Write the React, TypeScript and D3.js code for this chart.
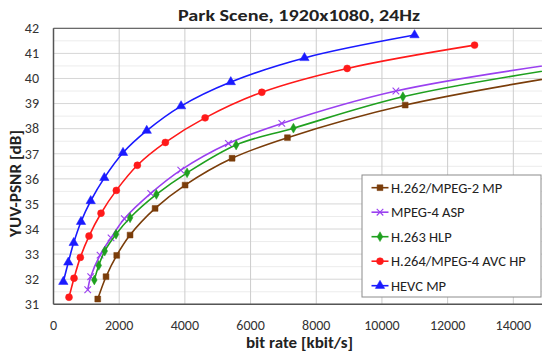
import React from 'react';
import * as d3 from 'd3';

// bit rate [kbit/s] / YUV-PSNR [dB]
const h262Rate = [1347, 1599, 1925, 2331, 3093, 4007, 5438, 7123, 10708, 16000];
const h262Psnr = [31.21, 32.1, 32.95, 33.76, 34.82, 35.75, 36.82, 37.64, 38.94, 40.21];
const mpeg4Rate = [1042, 1133, 1417, 1752, 2157, 2961, 3875, 5325, 6952, 10425, 15640];
const mpeg4Psnr = [31.58, 32.1, 32.96, 33.65, 34.41, 35.42, 36.35, 37.41, 38.21, 39.5, 40.64];
const h263Rate = [1243, 1377, 1560, 1904, 2331, 3132, 4067, 5560, 7305, 10638, 15500];
const h263Psnr = [31.97, 32.55, 33.12, 33.79, 34.45, 35.38, 36.24, 37.35, 38.02, 39.27, 40.42];
const h264Rate = [472, 625, 817, 1082, 1447, 1913, 2553, 3406, 4616, 6343, 8941, 12820];
const h264Psnr = [31.28, 32.04, 32.87, 33.72, 34.63, 35.54, 36.54, 37.45, 38.43, 39.45, 40.4, 41.33];
const hevcRate = [299, 451, 615, 838, 1133, 1548, 2117, 2839, 3884, 5398, 7641, 10992];
const hevcPsnr = [31.9, 32.67, 33.45, 34.29, 35.12, 36.04, 37.04, 37.92, 38.9, 39.86, 40.82, 41.73];

const seriesNames = ['H.262/MPEG-2 MP', 'MPEG-4 ASP', 'H.263 HLP', 'H.264/MPEG-4 AVC HP', 'HEVC MP'];
const xGrid = [0, 2000, 4000, 6000, 8000, 10000, 12000, 14000, 16000];
const xTickLabels = [0, 2000, 4000, 6000, 8000, 10000, 12000, 14000];
const yTicks = [31, 32, 33, 34, 35, 36, 37, 38, 39, 40, 41, 42];

const series = [
  { name: seriesNames[0], rate: h262Rate, psnr: h262Psnr, color: '#7a3d0a', symbol: d3.symbolSquare, size: 34 },
  { name: seriesNames[1], rate: mpeg4Rate, psnr: mpeg4Psnr, color: '#9a40f0', symbol: d3.symbolX, size: 30 },
  { name: seriesNames[2], rate: h263Rate, psnr: h263Psnr, color: '#1fa01f', symbol: d3.symbolDiamond, size: 28 },
  { name: seriesNames[3], rate: h264Rate, psnr: h264Psnr, color: '#ff1a1a', symbol: d3.symbolCircle, size: 38 },
  { name: seriesNames[4], rate: hevcRate, psnr: hevcPsnr, color: '#1a1aff', symbol: d3.symbolTriangle, size: 38 },
];

const W = 542;
const H = 352;
const plot = { left: 53.5, top: 28.3, right: 579, bottom: 304.3 };
const font = 'Carlito, Calibri, Lato, sans-serif';

export default function App() {
  const x = d3.scaleLinear().domain([0, 16000]).range([plot.left, plot.right]);
  const y = d3.scaleLinear().domain([31, 42]).range([plot.bottom, plot.top]);
  const line = d3
    .line<[number, number]>()
    .x(d => x(d[0]))
    .y(d => y(d[1]))
    .curve(d3.curveCatmullRom.alpha(0.5));

  const minorY = d3.range(31.5, 42, 1);

  // legend
  const lg = { x: 362, y: 175, w: 179, h: 122 };
  const lgRows = seriesNames.map((_, i) => lg.y + 12.7 + i * 24.5);

  return (
    <svg
      width={W}
      height={H}
      style={{ position: 'fixed', left: 0, top: 0, background: '#fff' }}
      fontFamily={font}
    >
      <defs>
        <clipPath id="plotClip">
          <rect x={plot.left} y={plot.top - 6} width={plot.right - plot.left} height={plot.bottom - plot.top + 6} />
        </clipPath>
      </defs>
      <rect width={W} height={H} fill="#fff" />

      {/* title */}
      <text
        x={299}
        y={21}
        textAnchor="middle"
        fontSize={16.5}
        fontWeight="bold"
        fill="#222"
        textLength={242}
        lengthAdjust="spacingAndGlyphs"
      >
        Park Scene, 1920x1080, 24Hz
      </text>

      {/* grid */}
      {minorY.map(v => (
        <line key={'m' + v} x1={plot.left} x2={plot.right} y1={y(v)} y2={y(v)} stroke="#ececec" strokeWidth={1} />
      ))}
      {yTicks.map(v => (
        <line key={'y' + v} x1={plot.left} x2={plot.right} y1={y(v)} y2={y(v)} stroke="#d6d6d6" strokeWidth={1} />
      ))}
      {xGrid.map(v => (
        <line key={'x' + v} x1={x(v)} x2={x(v)} y1={plot.top} y2={plot.bottom} stroke="#cccccc" strokeWidth={1} />
      ))}

      {/* frame */}
      <line x1={plot.left} x2={plot.right} y1={plot.top} y2={plot.top} stroke="#6a6a6a" strokeWidth={1.3} />
      <line x1={plot.left} x2={plot.left} y1={plot.top} y2={plot.bottom} stroke="#555" strokeWidth={1.5} />
      <line x1={plot.left} x2={plot.right} y1={plot.bottom} y2={plot.bottom} stroke="#555" strokeWidth={1.6} />

      {/* tick labels */}
      {yTicks.map(v => (
        <text key={'yl' + v} x={39} y={y(v) + 4.8} textAnchor="end" fontSize={14} fill="#333">
          {v}
        </text>
      ))}
      {xTickLabels.map(v => (
        <text key={'xl' + v} x={x(v)} y={329.5} textAnchor="middle" fontSize={14} fill="#333">
          {v}
        </text>
      ))}

      {/* axis titles */}
      <text
        x={299.5}
        y={347.5}
        textAnchor="middle"
        fontSize={15}
        fontWeight="bold"
        fill="#222"
        textLength={107}
        lengthAdjust="spacingAndGlyphs"
      >
        bit rate [kbit/s]
      </text>
      <text
        transform={`translate(20.5,183.5) rotate(-90)`}
        textAnchor="middle"
        fontSize={15}
        fontWeight="bold"
        fill="#222"
        textLength={107}
        lengthAdjust="spacingAndGlyphs"
      >
        YUV-PSNR [dB]
      </text>

      {/* series */}
      <g clipPath="url(#plotClip)">
        {series.map(s => {
          const pts = s.rate.map((r, i) => [r, s.psnr[i]] as [number, number]);
          const sym = d3.symbol().type(s.symbol).size(s.size)() || '';
          return (
            <g key={s.name}>
              <path d={line(pts) || ''} fill="none" stroke={s.color} strokeWidth={1.6} />
              {pts.map((p, i) => (
                <path
                  key={i}
                  d={sym}
                  transform={`translate(${x(p[0])},${y(p[1])})`}
                  fill={s.color}
                  stroke={s.color}
                  strokeWidth={s.symbol === d3.symbolX ? 1.1 : 0.5}
                />
              ))}
            </g>
          );
        })}
      </g>

      {/* legend */}
      <rect x={lg.x} y={lg.y} width={lg.w} height={lg.h} fill="#fff" stroke="#8c8c8c" strokeWidth={1} />
      {series.map((s, i) => {
        const sym = d3.symbol().type(s.symbol).size(s.size)() || '';
        const cy = lgRows[i];
        return (
          <g key={'lg' + i}>
            <line x1={371.5} x2={388.5} y1={cy} y2={cy} stroke={s.color} strokeWidth={1.6} />
            <path
              d={sym}
              transform={`translate(380,${cy})`}
              fill={s.color}
              stroke={s.color}
              strokeWidth={s.symbol === d3.symbolX ? 1.1 : 0.5}
            />
            <text x={391} y={cy + 5} fontSize={14.5} fill="#222">
              {s.name}
            </text>
          </g>
        );
      })}
    </svg>
  );
}
